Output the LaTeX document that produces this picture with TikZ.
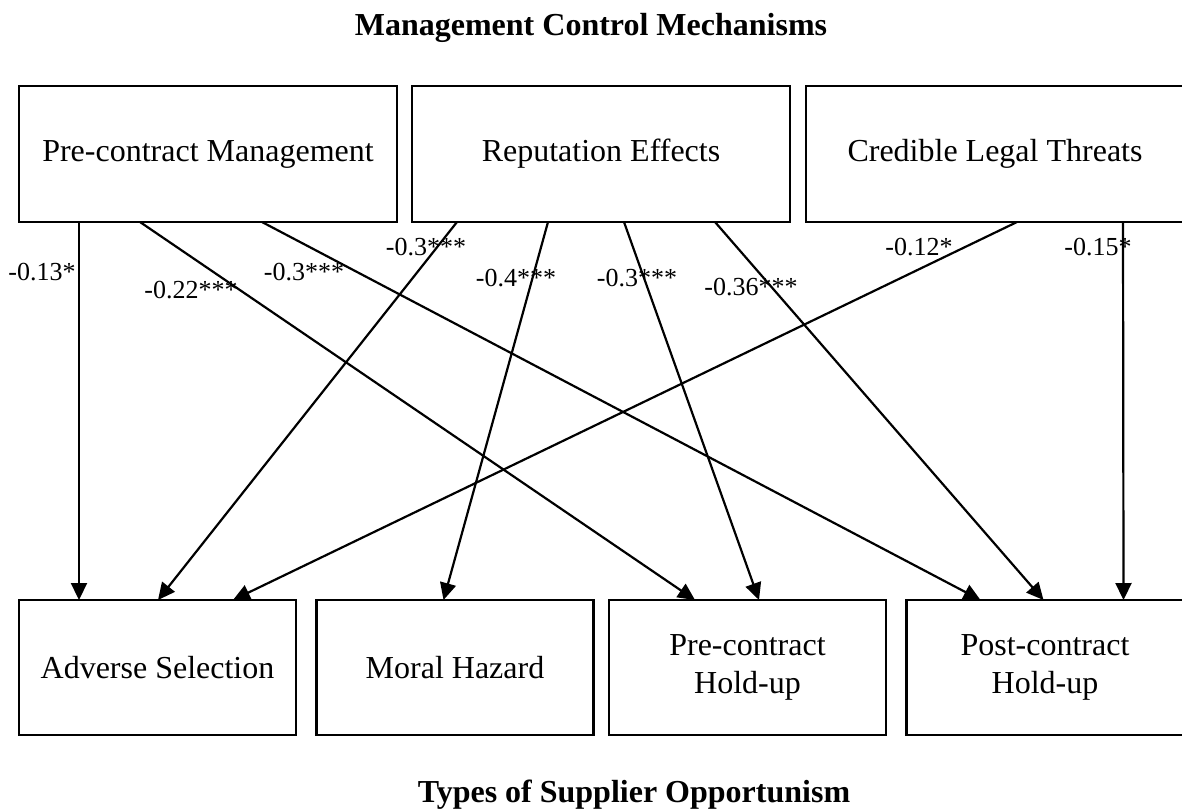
\documentclass[tikz,border=0pt]{standalone}
\usepackage{fontspec}
\setmainfont{Liberation Serif}
\usetikzlibrary{arrows.meta}
\tikzset{
  box/.style={draw, line width=2.4pt, outer sep=0pt, inner sep=0pt, align=center,
    font=\fontsize{32}{38}\selectfont},
  topbox/.style={box, minimum width=378pt, minimum height=136pt},
  botbox/.style={box, minimum width=277pt, minimum height=135pt},
  arr/.style={line width=2.2pt, -{Triangle[length=17pt,width=16pt]}},
  coef/.style={font=\fontsize{26}{30}\selectfont, inner sep=0pt},
  ttl/.style={font=\fontsize{32}{38}\selectfont\bfseries, inner sep=0pt, anchor=base}
}
\begin{document}
\begin{tikzpicture}[x=1pt,y=-1pt]
\useasboundingbox (0,0) rectangle (1182,811);
\fill[white] (0,0) rectangle (1182,811);
\node[ttl] (t1) at (591,35) {Management Control Mechanisms};
\node[ttl] (t2) at (634,802) {Types of Supplier Opportunism};

\node[topbox] (pcm) at (208,154) {Pre-contract Management};
\node[topbox] (re) at (601,154) {Reputation Effects};
\node[topbox] (clt) at (995,154) {Credible Legal Threats};

\node[botbox] (as) at (157.5,667.5) {Adverse Selection};
\node[botbox] (mh) at (455,667.5) {Moral Hazard};
\node[botbox] (preh) at (747.5,667.5) {Pre-contract\\Hold-up};
\node[botbox] (posth) at (1045,667.5) {Post-contract\\Hold-up};

\draw[arr] ([xshift=60pt]pcm.south west) -- ([xshift=60pt]as.north west);
\draw[arr] ([xshift=121pt]pcm.south west) -- ([xshift=86pt]preh.north west);
\draw[arr] ([xshift=243pt]pcm.south west) -- ([xshift=74pt]posth.north west);
\draw[arr] ([xshift=45pt]re.south west) -- ([xshift=139pt]as.north west);
\draw[arr] ([xshift=136pt]re.south west) -- ([xshift=127pt]mh.north west);
\draw[arr] ([xshift=212pt]re.south west) -- ([xshift=150pt]preh.north west);
\draw[arr] ([xshift=303pt]re.south west) -- ([xshift=137pt]posth.north west);
\draw[arr] ([xshift=211pt]clt.south west) -- ([xshift=214pt]as.north west);
\draw[arr] ([xshift=317pt]clt.south west) -- ([xshift=217pt]posth.north west);

\node[coef] (c1) at (42,272) {-0.13*};
\node[coef] (c2) at (191,290) {-0.22***};
\node[coef] (c3) at (304,272) {-0.3***};
\node[coef] (c4) at (426,247) {-0.3***};
\node[coef] (c5) at (516,278) {-0.4***};
\node[coef] (c6) at (637,278) {-0.3***};
\node[coef] (c7) at (751,287) {-0.36***};
\node[coef] (c8) at (919,247) {-0.12*};
\node[coef] (c9) at (1098,247) {-0.15*};
\end{tikzpicture}
\end{document}
